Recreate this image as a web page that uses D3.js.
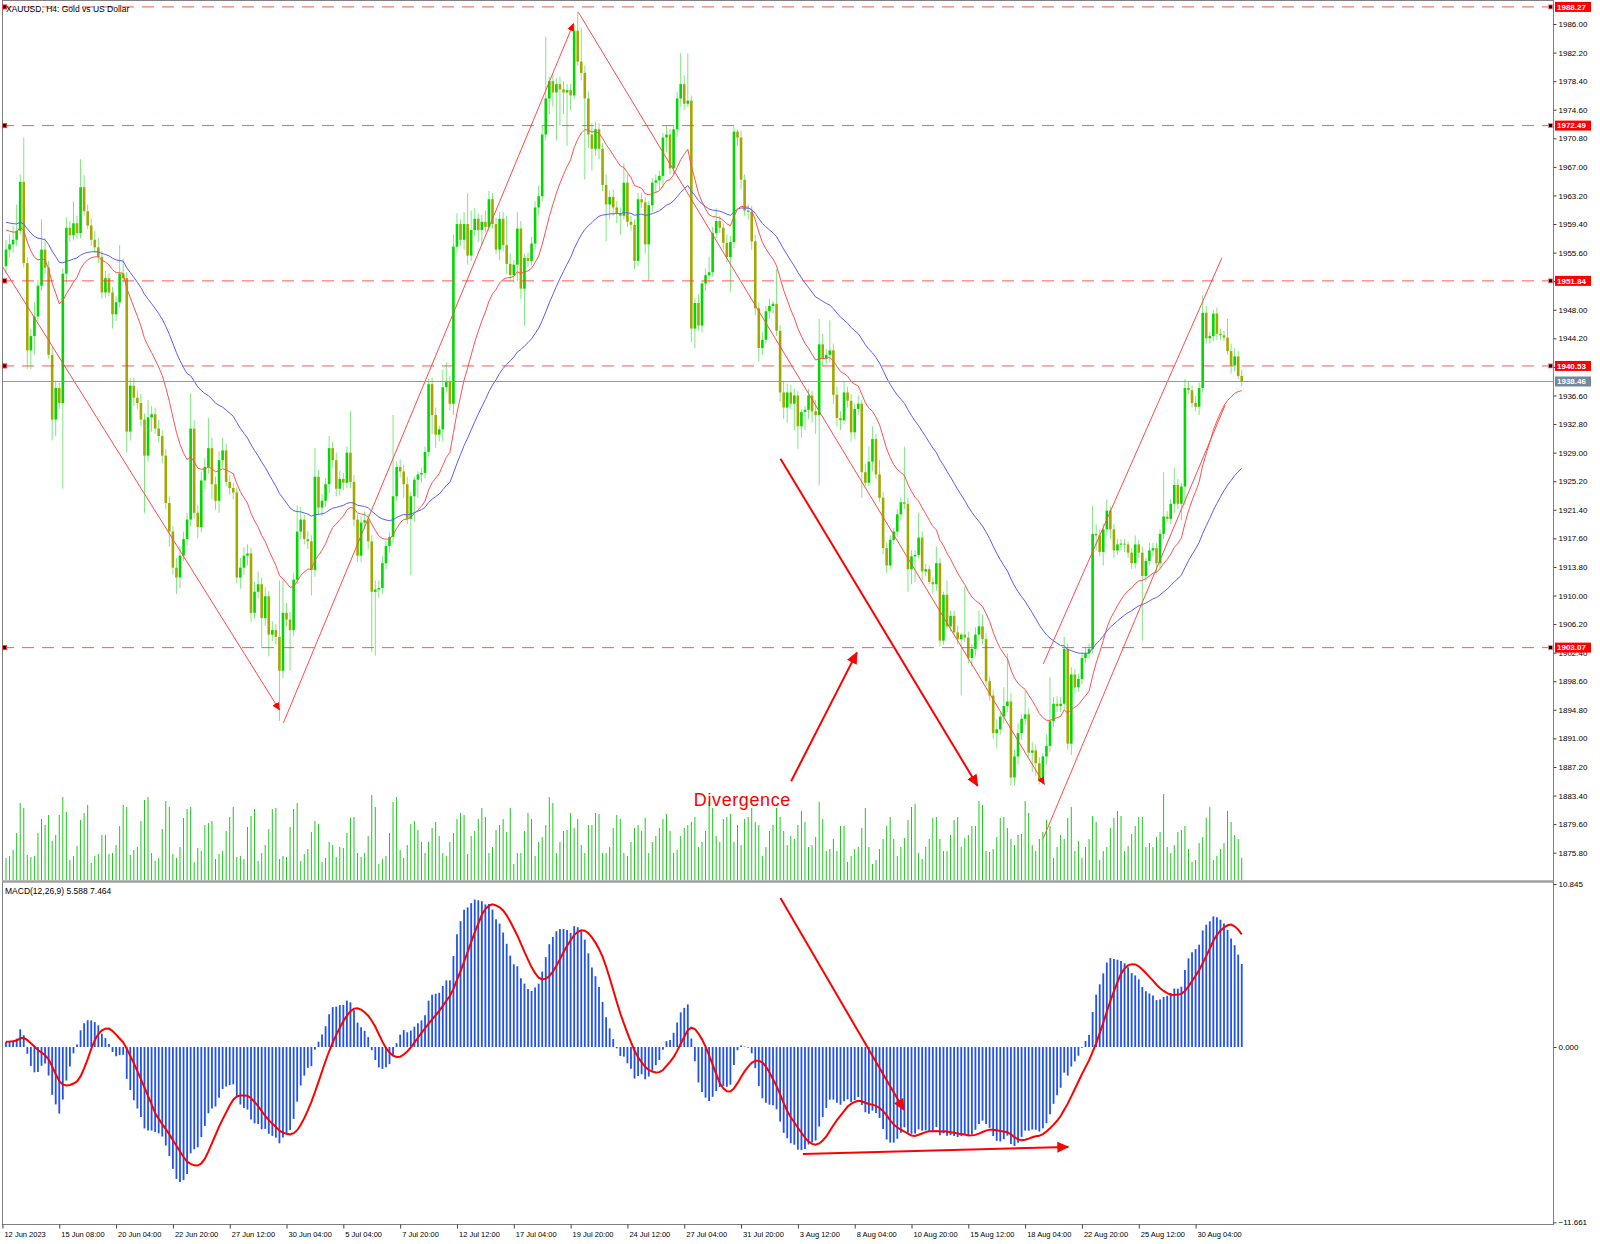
<!DOCTYPE html>
<html><head><meta charset="utf-8">
<script src="https://cdn.jsdelivr.net/npm/d3@7/dist/d3.min.js"></script>
<style>
html,body{margin:0;padding:0;background:#fff;}
svg{display:block;font-family:"Liberation Sans",Arial,sans-serif;}
</style></head><body>
<svg id="chart" width="1600" height="1244"></svg>
<script>
// ---------------- DATA (XAUUSD H4) ----------------
const open = [
1953.8,1956.0,1956.7,1957.3,1958.5,1965.0,1954.2,1942.6,1944.5,1947.1,
1951.2,1956.0,1953.6,1942.0,1933.4,1937.6,1935.6,1952.8,1958.9,1957.9,
1959.5,1958.2,1964.3,1961.1,1959.2,1957.3,1956.3,1955.0,1950.3,1952.2,
1950.3,1947.4,1949.0,1952.8,1952.2,1931.8,1937.9,1936.3,1935.6,1933.4,
1928.6,1933.7,1934.1,1932.2,1931.2,1928.6,1922.3,1918.5,1913.7,1912.4,
1915.3,1917.5,1920.1,1932.2,1921.0,1919.1,1925.3,1927.1,1929.6,1924.8,
1922.6,1928.0,1929.3,1925.1,1924.3,1923.7,1912.4,1913.7,1915.3,1915.6,
1907.7,1910.5,1911.5,1907.0,1909.9,1904.8,1905.4,1904.5,1900.0,1907.7,
1906.8,1905.4,1912.1,1918.5,1920.1,1917.5,1917.2,1913.4,1925.8,1921.7,
1922.6,1924.8,1929.6,1928.0,1924.2,1925.5,1925.0,1929.0,1925.1,1920.1,
1915.3,1919.7,1920.0,1917.2,1910.5,1910.8,1911.0,1914.3,1916.6,1917.8,
1923.2,1927.1,1926.5,
1924.8,1920.2,1923.2,1925.4,1926.1,1926.3,1929.1,1938.1,1934.0,1931.4,
1932.1,1937.7,1938.4,1935.5,1956.4,1959.4,1957.3,1959.4,1955.2,1958.6,
1960.1,1958.6,1959.7,1959.0,1962.7,1959.4,1956.0,1960.1,1956.6,1954.1,
1952.6,1954.0,1958.8,1950.8,1954.9,1954.5,1956.8,1961.6,1963.1,1971.3,
1976.1,1978.4,1976.9,1978.0,1977.3,1976.9,1977.2,1976.5,1985.1,1981.0,
1979.5,1976.1,1971.3,1969.4,1972.0,1969.4,1964.6,1962.0,1963.0,1961.6,
1960.8,1960.5,1964.9,1959.7,1959.3,1954.5,1962.7,1962.3,1956.7,1961.9,
1964.9,1965.2,1965.8,1970.9,1971.3,1966.8,1972.0,1976.1,1978.0,1975.4,
1975.8,1945.5,1948.9,1945.9,1951.5,1952.6,1953.0,1958.2,1959.8,1958.9,
1956.9,1955.0,1957.0,1971.7,1970.9,1965.3,1961.2,1961.0,1957.1,1948.2,
1942.9,1944.0,1947.8,1948.5,1948.8,1945.2,1937.0,1935.0,1937.0,1935.5,
1936.6,1932.5,1934.4,1934.7,
1936.6,1934.5,1934.0,1943.4,1941.5,1942.0,1942.6,1936.7,1933.6,1933.3,
1937.0,1935.9,1931.7,1934.8,1935.5,1926.4,1925.0,1927.8,1930.8,1926.1,
1923.0,1916.3,1914.0,1917.4,1918.5,1920.8,1922.4,1922.2,1913.5,1915.2,
1915.4,1917.7,1913.2,1913.5,1911.8,1911.5,1914.3,1904.0,1910.1,1905.9,
1907.3,1905.1,1904.2,1904.8,1904.4,1901.7,1902.9,1904.8,1905.9,1904.2,
1898.6,1896.7,1891.7,1892.2,1893.9,1895.3,1895.9,1885.8,1888.6,1891.7,
1893.6,1894.2,1889.1,1889.4,1887.7,1885.5,1888.6,1890.0,1893.3,1895.6,
1895.3,1895.6,1902.9,1890.3,1899.5,1897.8,1898.9,1901.7,1902.3,1902.9,
1918.2,1918.0,1915.8,1918.8,1921.3,1918.8,1916.0,1916.8,1916.9,1916.8,
1915.7,1914.3,1916.8,1915.7,1912.6,1914.6,1916.0,1916.3,1914.3,1918.2,
1920.5,1920.2,1922.2,1924.7,1922.2,1924.5,1937.6,1937.3,1935.6,1935.1,
1937.6,1947.6,1944.2,1944.5,1947.5,1944.8,1944.6,
1944.3,1942.5,1940.6,1941.8,1939.2
];
const high = [
1957.3,1958.0,1959.2,1962.0,1966.0,1970.9,1955.0,1945.5,1949.0,1952.0,
1960.0,1957.5,1954.5,1943.0,1938.5,1938.3,1953.5,1960.2,1959.8,1962.4,
1960.5,1968.0,1965.9,1962.0,1960.2,1958.5,1957.5,1955.8,1953.2,1952.9,
1951.0,1949.8,1956.6,1954.8,1953.0,1938.9,1939.0,1937.2,1936.8,1934.2,
1936.0,1935.2,1935.0,1933.4,1932.0,1929.5,1923.2,1919.2,1915.0,1916.5,
1918.5,1921.0,1936.9,1933.3,1922.0,1926.5,1928.3,1933.6,1931.0,1925.8,
1929.2,1931.0,1930.2,1926.0,1925.0,1924.4,1915.0,1916.4,1916.8,1916.3,
1911.8,1913.2,1912.4,1911.1,1910.6,1906.6,1906.2,1912.0,1912.0,1909.0,
1907.8,1913.0,1922.0,1921.8,1920.8,1918.6,1918.0,1929.6,1926.7,1923.5,
1925.6,1931.2,1930.5,1929.0,1926.6,1926.3,1929.8,1934.5,1926.0,1920.8,
1920.6,1921.2,1920.9,1918.0,1912.0,1912.0,1915.2,1917.3,1918.4,1934.0,
1927.8,1928.1,1927.4,
1925.8,1923.8,1925.8,1926.5,1927.0,1929.8,1938.8,1939.0,1935.0,1932.6,
1940.0,1941.0,1939.2,1958.0,1960.8,1960.0,1961.0,1963.5,1961.2,1961.5,
1960.8,1960.6,1961.2,1963.8,1963.5,1960.2,1961.0,1961.0,1960.5,1955.5,
1954.6,1961.0,1959.8,1955.5,1955.6,1957.7,1962.4,1964.5,1972.5,1984.3,
1979.0,1979.2,1978.8,1979.0,1978.4,1978.0,1978.0,1986.0,1987.6,1985.5,
1980.5,1977.0,1972.8,1973.0,1972.8,1970.2,1966.0,1963.8,1964.0,1962.5,
1961.6,1967.5,1966.0,1960.5,1960.0,1963.5,1963.6,1963.0,1962.5,1965.5,
1966.0,1966.5,1971.5,1972.5,1972.0,1972.5,1977.0,1982.1,1979.2,1982.1,
1976.5,1949.5,1950.0,1952.0,1953.5,1955.0,1959.0,1961.5,1960.5,1959.5,
1958.0,1957.8,1972.4,1972.0,1971.8,1966.0,1962.0,1961.8,1958.0,1949.0,
1945.0,1948.5,1949.5,1949.2,1953.4,1946.0,1938.5,1938.2,1938.0,1937.5,
1937.2,1934.8,1935.2,1937.5,
1937.2,1936.0,1946.8,1944.8,1942.8,1946.6,1943.5,1937.8,1934.5,1938.5,
1937.8,1936.8,1935.5,1936.6,1936.0,1927.5,1929.8,1932.5,1931.5,1928.0,
1923.8,1917.0,1918.0,1919.0,1921.5,1923.0,1929.8,1923.0,1916.0,1916.0,
1921.0,1918.5,1914.2,1914.0,1912.5,1916.5,1915.0,1910.5,1912.0,1908.0,
1908.0,1906.0,1905.0,1911.2,1905.2,1903.5,1905.8,1908.0,1907.5,1905.0,
1899.2,1897.5,1893.5,1894.5,1897.8,1902.3,1897.0,1889.5,1893.0,1894.2,
1897.3,1895.0,1890.5,1890.2,1888.5,1889.0,1891.5,1899.2,1896.5,1896.6,
1896.5,1904.5,1903.6,1900.5,1900.2,1899.6,1902.4,1903.0,1903.6,1921.9,
1919.5,1918.8,1919.5,1922.8,1921.9,1919.5,1917.5,1917.5,1917.5,1917.2,
1916.3,1918.0,1917.4,1916.5,1915.0,1917.0,1917.0,1917.0,1918.8,1926.4,
1921.2,1922.8,1927.0,1925.5,1925.0,1938.8,1938.4,1938.0,1936.5,1938.3,
1949.9,1948.5,1945.0,1948.0,1948.3,1945.5,1945.2,
1946.8,1943.5,1942.9,1942.5,1940.0
];
const low = [
1952.8,1955.0,1955.6,1956.5,1958.0,1953.6,1940.1,1940.1,1942.0,1946.5,
1950.5,1952.8,1941.5,1930.6,1931.2,1934.8,1924.2,1951.5,1957.0,1957.2,
1957.4,1957.5,1960.5,1958.8,1956.5,1955.5,1954.2,1949.5,1949.6,1949.8,
1945.5,1946.5,1948.3,1951.6,1929.0,1930.6,1935.2,1934.8,1932.5,1921.0,
1927.8,1931.8,1931.5,1930.4,1927.6,1921.5,1916.5,1912.8,1910.2,1911.0,
1914.6,1916.6,1919.2,1920.2,1917.6,1918.4,1924.2,1926.2,1922.8,1921.4,
1921.0,1927.0,1924.5,1923.4,1922.8,1911.6,1910.9,1912.7,1914.0,1906.5,
1906.9,1909.6,1903.0,1906.0,1901.9,1903.9,1903.5,1893.3,1899.0,1905.9,
1900.0,1904.6,1911.5,1917.5,1916.8,1916.2,1910.0,1912.5,1920.8,1920.6,
1921.8,1923.6,1927.0,1923.2,1923.3,1924.0,1924.3,1924.3,1919.2,1914.5,
1914.4,1918.8,1916.2,1902.5,1902.0,1909.7,1910.2,1913.5,1915.7,1917.0,
1922.6,1925.7,1923.0,
1919.5,1912.7,1919.8,1923.0,1925.0,1925.6,1928.5,1931.5,1929.6,1930.5,
1930.5,1937.0,1934.6,1934.0,1955.6,1956.5,1956.0,1954.0,1954.5,1957.8,
1957.0,1956.5,1958.3,1958.4,1958.8,1955.4,1954.6,1955.8,1952.8,1951.8,
1951.6,1951.8,1949.4,1945.9,1953.7,1953.9,1956.0,1960.6,1962.4,1970.5,
1974.0,1975.0,1970.5,1972.5,1974.0,1969.8,1974.5,1976.0,1980.5,1978.5,
1965.3,1969.5,1966.5,1968.5,1968.0,1963.8,1957.1,1960.0,1960.5,1959.5,
1958.0,1960.0,1959.0,1958.5,1953.4,1953.8,1961.5,1955.5,1951.9,1961.0,
1963.5,1964.0,1964.2,1969.0,1966.0,1966.0,1971.0,1975.0,1974.5,1975.0,
1943.7,1942.9,1945.2,1945.0,1950.5,1951.5,1952.4,1957.5,1958.2,1956.0,
1954.3,1950.4,1956.2,1969.8,1964.0,1960.5,1960.0,1956.0,1947.3,1941.1,
1942.0,1943.5,1946.8,1947.5,1944.5,1935.8,1933.5,1933.0,1934.8,1932.0,
1929.5,1931.0,1932.0,1933.5,
1933.0,1931.5,1924.7,1940.5,1940.8,1941.0,1935.5,1932.5,1932.0,1932.8,
1935.0,1930.5,1930.8,1934.0,1923.0,1924.5,1924.5,1926.5,1925.5,1922.5,
1915.5,1913.0,1913.5,1916.8,1917.8,1920.0,1921.5,1910.5,1911.5,1911.8,
1915.0,1912.0,1912.6,1911.5,1910.3,1910.6,1903.2,1903.5,1905.5,1905.2,
1904.9,1903.5,1896.7,1903.8,1901.0,1900.5,1902.0,1904.0,1903.5,1898.0,
1896.0,1891.0,1889.7,1891.5,1893.0,1894.5,1884.7,1884.7,1887.5,1890.8,
1892.8,1888.5,1886.5,1886.0,1884.9,1885.0,1887.5,1889.2,1892.5,1894.5,
1894.5,1894.8,1889.5,1888.8,1897.0,1897.2,1898.2,1901.0,1901.6,1902.3,
1916.0,1915.2,1914.0,1918.0,1917.5,1915.0,1915.4,1916.0,1915.8,1915.0,
1913.5,1913.6,1915.0,1904.0,1911.8,1914.0,1915.2,1913.0,1913.6,1917.5,
1919.8,1919.5,1921.0,1921.5,1920.0,1922.0,1936.8,1935.0,1934.5,1934.0,
1937.0,1943.5,1943.5,1943.8,1944.0,1944.0,1943.8,
1942.0,1939.5,1939.8,1938.8,1937.8
];
const close = [
1956.0,1956.7,1957.3,1958.5,1965.0,1954.2,1942.6,1944.5,1947.1,1951.2,
1956.0,1953.6,1942.0,1933.4,1937.6,1935.6,1952.8,1958.9,1957.9,1959.5,
1958.2,1964.3,1961.1,1959.2,1957.3,1956.3,1955.0,1950.3,1952.2,1950.3,
1947.4,1949.0,1952.8,1952.2,1931.8,1937.9,1936.3,1935.6,1933.4,1928.6,
1933.7,1934.1,1932.2,1931.2,1928.6,1922.3,1918.5,1913.7,1912.4,1915.3,
1917.5,1920.1,1932.2,1921.0,1919.1,1925.3,1927.1,1929.6,1924.8,1922.6,
1928.0,1929.3,1925.1,1924.3,1923.7,1912.4,1913.7,1915.3,1915.6,1907.7,
1910.5,1911.5,1907.0,1909.9,1904.8,1905.4,1904.5,1900.0,1907.7,1906.8,
1905.4,1912.1,1918.5,1920.1,1917.5,1917.2,1913.4,1925.8,1921.7,1922.6,
1924.8,1929.6,1928.0,1924.2,1925.5,1925.0,1929.0,1925.1,1920.1,1915.3,
1919.7,1920.0,1917.2,1910.5,1910.8,1911.0,1914.3,1916.6,1917.8,1923.2,
1927.1,1926.5,1924.8,
1920.2,1923.2,1925.4,1926.1,1926.3,1929.1,1938.1,1934.0,1931.4,1932.1,
1937.7,1938.4,1935.5,1956.4,1959.4,1957.3,1959.4,1955.2,1958.6,1960.1,
1958.6,1959.7,1959.0,1962.7,1959.4,1956.0,1960.1,1956.6,1954.1,1952.6,
1954.0,1958.8,1950.8,1954.9,1954.5,1956.8,1961.6,1963.1,1971.3,1976.1,
1978.4,1976.9,1978.0,1977.3,1976.9,1977.2,1976.5,1985.1,1981.0,1979.5,
1976.1,1971.3,1969.4,1972.0,1969.4,1964.6,1962.0,1963.0,1961.6,1960.8,
1960.5,1964.9,1959.7,1959.3,1954.5,1962.7,1962.3,1956.7,1961.9,1964.9,
1965.2,1965.8,1970.9,1971.3,1966.8,1972.0,1976.1,1978.0,1975.4,1975.8,
1945.5,1948.9,1945.9,1951.5,1952.6,1953.0,1958.2,1959.8,1958.9,1956.9,
1955.0,1957.0,1971.7,1970.9,1965.3,1961.2,1961.0,1957.1,1948.2,1942.9,
1944.0,1947.8,1948.5,1948.8,1945.2,1937.0,1935.0,1937.0,1935.5,1936.6,
1932.5,1934.4,1934.7,1936.6,
1934.5,1934.0,1943.4,1941.5,1942.0,1942.6,1936.7,1933.6,1933.3,1937.0,
1935.9,1931.7,1934.8,1935.5,1926.4,1925.0,1927.8,1930.8,1926.1,1923.0,
1916.3,1914.0,1917.4,1918.5,1920.8,1922.4,1922.2,1913.5,1915.2,1915.4,
1917.7,1913.2,1913.5,1911.8,1911.5,1914.3,1904.0,1910.1,1905.9,1907.3,
1905.1,1904.2,1904.8,1904.4,1901.7,1902.9,1904.8,1905.9,1904.2,1898.6,
1896.7,1891.7,1892.2,1893.9,1895.3,1895.9,1885.8,1888.6,1891.7,1893.6,
1894.2,1889.1,1889.4,1887.7,1885.5,1888.6,1890.0,1893.3,1895.6,1895.3,
1895.6,1902.9,1890.3,1899.5,1897.8,1898.9,1901.7,1902.3,1902.9,1918.2,
1918.0,1915.8,1918.8,1921.3,1918.8,1916.0,1916.8,1916.9,1916.8,1915.7,
1914.3,1916.8,1915.7,1912.6,1914.6,1916.0,1916.3,1914.3,1918.2,1920.5,
1920.2,1922.2,1924.7,1922.2,1924.5,1937.6,1937.3,1935.6,1935.1,1937.6,
1947.6,1944.2,1944.5,1947.5,1944.8,1944.6,1944.3,
1942.5,1940.6,1941.8,1939.2,1938.46
];
// tick volume (hundreds of ticks)
const volume = [
22,24,30,47,77,72,25,23,24,47,61,55,65,39,45,65,83,68,20,24,
34,60,67,75,17,24,26,45,45,26,27,35,54,75,73,25,30,33,59,80,
83,27,19,22,51,79,73,26,22,33,62,71,73,18,32,29,55,57,59,21,
26,29,49,63,73,23,24,21,53,64,71,19,27,35,51,71,72,21,24,23,
53,71,77,19,26,31,48,59,56,18,22,38,35,23,33,32,47,62,63,27,
23,27,44,85,73,16,21,24,47,78,83,30,22,
35,56,59,50,38,27,38,52,58,44,27,24,38,47,61,67,65,26,44,49,
61,72,63,27,33,50,55,61,48,72,16,27,27,49,67,61,24,38,43,55,
83,77,27,38,49,50,67,52,61,35,27,55,55,67,66,27,27,33,52,65,
61,27,24,38,52,55,49,62,27,38,44,52,61,66,49,27,30,44,52,55,
58,63,33,38,49,79,72,44,38,61,63,66,38,55,35,61,63,72,58,55,
24,33,49,55,72,63,49,35,44,41,55,69,58,33,
35,43,78,61,29,31,41,29,54,54,18,24,31,33,52,72,33,16,20,31,
41,54,63,41,24,33,42,60,73,76,27,21,33,41,62,63,41,29,29,45,
60,63,33,42,45,54,54,79,75,29,28,31,43,62,63,52,41,35,45,46,
79,67,35,29,41,48,60,54,22,33,45,41,62,73,29,39,22,33,41,64,
58,20,29,33,52,62,69,64,29,34,46,54,63,63,33,37,33,43,48,86,
33,27,35,48,50,54,31,18,20,37,43,62,73,20,24,31,37,
69,58,45,41,22
];
// horizontal levels drawn on the chart
const levels = [1988.27, 1972.49, 1951.84, 1940.53, 1903.07];
const bidPrice = 1938.46;
// right price-axis tick labels
const priceTicks = [1986.00,1982.20,1978.40,1974.60,1970.80,1967.00,1963.20,1959.40,1955.60,1951.80,
  1948.00,1944.20,1940.40,1936.60,1932.80,1929.00,1925.20,1921.40,1917.60,1913.80,1910.00,1906.20,
  1902.40,1898.60,1894.80,1891.00,1887.20,1883.40,1879.60,1875.80];
const macdTicks = [10.845, 0, -11.661];
// time-axis labels and the bar index each one sits on
const timeLabels = ["12 Jun 2023","15 Jun 08:00","20 Jun 04:00","22 Jun 20:00","27 Jun 12:00","30 Jun 04:00",
  "5 Jul 04:00","7 Jul 20:00","12 Jul 12:00","17 Jul 04:00","19 Jul 20:00","24 Jul 12:00","27 Jul 04:00",
  "31 Jul 20:00","3 Aug 12:00","8 Aug 04:00","10 Aug 20:00","15 Aug 12:00","18 Aug 04:00","22 Aug 20:00",
  "25 Aug 12:00","30 Aug 04:00"];
const timeBars = [-1,15,31,47,63,79,95,111,127,143,159,175,191,207,223,239,255,271,287,303,319,335];
// indicator settings / starting values read from the left edge
const maRedPeriod = 20, maRedStart = 1958.9;
const maBluePeriod = 50, maBlueStart = 1959.8;
const macdFast = 12, macdSlow = 26, macdSignal = 9, emaFastStart = 1956.2, emaSlowStart = 1955.8;
// drawn objects (bar index, price)
const trendLines = [
  {k1:-1.2, p1:1953.9, k2:77.0, p2:1894.8, arrow:true},
  {k1:78.1, p1:1893.05, k2:159.8, p2:1986.05, arrow:true},
  {k1:161.2, p1:1987.56, k2:292.4, p2:1884.9, arrow:true},
  {k1:292.1, p1:1900.9, k2:342.4, p2:1954.9, arrow:false},
  {k1:292.1, p1:1877.7, k2:343.3, p2:1935.3, arrow:false}
];
const divArrows = [
  {k1:218.1, p1:1928.2, k2:273.6, p2:1884.7},
  {k1:221.1, p1:1885.3, k2:239.6, p2:1902.4}
];
const macdArrows = [
  {k1:218.1, v1:9.91, k2:252.9, v2:-4.19},
  {k1:224.4, v1:-7.12, k2:299.1, v2:-6.65}
];
const divText = {k:193.7, p:1882.8, text:"Divergence"};

// ---------------- CHART ----------------
const svg = d3.select("#chart");
const N = close.length;
const x = d3.scaleLinear().domain([0, 348]).range([6, 6 + 3.551 * 348]);
const yP = d3.scaleLinear().domain([1875.8, 1986]).range([852.7, 24]);
const yV = d3.scaleLinear().domain([0, 100]).range([880, 780]);
const yM = d3.scaleLinear().domain([-11.661, 10.845]).range([1222.3, 884]);
const idx = d3.range(N);

const defs = svg.append("defs");
defs.append("clipPath").attr("id","clipP").append("rect").attr("x",3).attr("y",1).attr("width",1550).attr("height",879);
defs.append("clipPath").attr("id","clipM").append("rect").attr("x",3).attr("y",884).attr("width",1550).attr("height",340);
function marker(id, size){
  defs.append("marker").attr("id",id).attr("viewBox","0 0 10 10").attr("refX",9).attr("refY",5)
    .attr("markerUnits","userSpaceOnUse").attr("markerWidth",size).attr("markerHeight",size)
    .attr("orient","auto").append("path").attr("d","M0,0.5 L10,5 L0,9.5 z").attr("fill","#ff0000");
}
marker("arrS", 8); marker("arrL", 12);

// indicators computed from the close series
function ema(src, n, seed){ const a = 2/(n+1); let e = seed; return src.map(v => (e = e + a*(v - e))); }
const maRed = ema(close, maRedPeriod, maRedStart);
const maBlue = ema(close, maBluePeriod, maBlueStart);
const eF = ema(close, macdFast, emaFastStart), eS = ema(close, macdSlow, emaSlowStart);
const macd = eF.map((v,i) => v - eS[i]);
const signal = macd.map((v,i) => d3.mean(macd.slice(Math.max(0, i - macdSignal + 1), i + 1)));

// frame
const frame = svg.append("g").attr("stroke","#808080").attr("fill","none");
frame.append("line").attr("x1",2.5).attr("x2",2.5).attr("y1",0).attr("y2",1225);
frame.append("line").attr("x1",2).attr("x2",1554).attr("y1",0.5).attr("y2",0.5);
frame.append("line").attr("x1",2).attr("x2",1554).attr("y1",881.5).attr("y2",881.5).attr("stroke","#a0a0a0").attr("stroke-width",2.5);
frame.append("line").attr("x1",2).attr("x2",1554).attr("y1",1224.5).attr("y2",1224.5);
frame.append("line").attr("x1",1553.5).attr("x2",1553.5).attr("y1",0).attr("y2",1225);

// price pane
const gP = svg.append("g").attr("clip-path","url(#clipP)");
gP.append("g").selectAll("line").data(idx).join("line")
  .attr("x1",i=>x(i)).attr("x2",i=>x(i)).attr("y1",yV(0)).attr("y2",i=>yV(volume[i]))
  .attr("stroke","#1ec81e").attr("stroke-width",1);
gP.append("g").selectAll("line").data(idx).join("line")
  .attr("x1",i=>x(i)).attr("x2",i=>x(i)).attr("y1",i=>yP(high[i])).attr("y2",i=>yP(low[i]))
  .attr("stroke","#7ee87e").attr("stroke-width",1);
gP.append("g").selectAll("rect").data(idx).join("rect")
  .attr("x",i=>x(i)-1.3).attr("width",2.6)
  .attr("y",i=>yP(Math.max(open[i],close[i])))
  .attr("height",i=>Math.max(1,Math.abs(yP(open[i])-yP(close[i]))))
  .attr("fill",i=>close[i]>=open[i]?"#00d800":"#a2a800");
const line = d3.line().x((d,i)=>x(i));
gP.append("path").datum(maBlue).attr("d",line.y(d=>yP(d))).attr("fill","none").attr("stroke","#5a5aff").attr("stroke-width",1);
gP.append("path").datum(maRed).attr("d",line.y(d=>yP(d))).attr("fill","none").attr("stroke","#ff5050").attr("stroke-width",1);
// trend lines
gP.append("g").selectAll("line").data(trendLines).join("line")
  .attr("x1",d=>x(d.k1)).attr("y1",d=>yP(d.p1)).attr("x2",d=>x(d.k2)).attr("y2",d=>yP(d.p2))
  .attr("stroke","#ff4a4a").attr("stroke-width",1)
  .attr("marker-end",d=>d.arrow?"url(#arrS)":null);
gP.append("g").selectAll("line").data(divArrows).join("line")
  .attr("x1",d=>x(d.k1)).attr("y1",d=>yP(d.p1)).attr("x2",d=>x(d.k2)).attr("y2",d=>yP(d.p2))
  .attr("stroke","#ff0000").attr("stroke-width",2).attr("marker-end","url(#arrL)");
// levels
gP.append("line").attr("x1",2).attr("x2",1553).attr("y1",yP(bidPrice)).attr("y2",yP(bidPrice))
  .attr("stroke","#8e9aa8").attr("stroke-width",1);
gP.append("g").selectAll("line").data(levels).join("line")
  .attr("x1",2).attr("x2",1553).attr("y1",d=>yP(d)).attr("y2",d=>yP(d))
  .attr("stroke","#ff3a3a").attr("stroke-width",1).attr("stroke-dasharray","12,8").attr("opacity",0.85);
svg.append("g").selectAll("rect").data(levels).join("rect")
  .attr("x",2.5).attr("y",d=>yP(d)-2).attr("width",4).attr("height",4).attr("fill","#000").attr("stroke","#ff3030").attr("stroke-width",1);
svg.append("g").selectAll("rect").data(levels).join("rect")
  .attr("x",1548.5).attr("y",d=>yP(d)-2).attr("width",4).attr("height",4).attr("fill","#000").attr("stroke","#ff8080").attr("stroke-width",0.8);
gP.append("text").attr("x",x(divText.k)).attr("y",yP(divText.p)).attr("dy","0.35em")
  .attr("font-size",18).attr("letter-spacing",0.6).attr("fill","#ff0000").text(divText.text);

svg.append("text").attr("x",6).attr("y",12).attr("font-size",8.5).attr("fill","#000").text("XAUUSD, H4:  Gold vs US Dollar");

// MACD pane
const gM = svg.append("g").attr("clip-path","url(#clipM)");
gM.append("g").selectAll("line").data(idx).join("line")
  .attr("x1",i=>x(i)).attr("x2",i=>x(i)).attr("y1",yM(0)).attr("y2",i=>yM(macd[i]))
  .attr("stroke","#2152f0").attr("stroke-width",1.8);
gM.append("path").datum(signal).attr("d",line.y(d=>yM(d))).attr("fill","none").attr("stroke","#ff0000").attr("stroke-width",2);
gM.append("g").selectAll("line").data(macdArrows).join("line")
  .attr("x1",d=>x(d.k1)).attr("y1",d=>yM(d.v1)).attr("x2",d=>x(d.k2)).attr("y2",d=>yM(d.v2))
  .attr("stroke","#ff0000").attr("stroke-width",2).attr("marker-end","url(#arrL)");
svg.append("text").attr("x",5).attr("y",894).attr("font-size",8.5).attr("fill","#000").text("MACD(12,26,9) 5.588 7.464");

// axes
function styleAxis(g){ g.select(".domain").remove(); g.attr("font-family","Liberation Sans, Arial, sans-serif"); g.selectAll("line").attr("stroke","#404040"); g.selectAll("text").attr("fill","#000"); }
svg.append("g").attr("transform","translate(1553.5,0)")
  .call(d3.axisRight(yP).tickValues(priceTicks).tickFormat(d3.format(".2f")).tickSize(3).tickPadding(2))
  .attr("font-size",8).call(styleAxis);
svg.append("g").attr("transform","translate(1553.5,0)")
  .call(d3.axisRight(yM).tickValues(macdTicks).tickFormat(d3.format(".3f")).tickSize(3).tickPadding(2))
  .attr("font-size",8).call(styleAxis);
svg.append("g").attr("transform","translate(0,1224.5)")
  .call(d3.axisBottom(x).tickValues(timeBars).tickFormat((d,i)=>timeLabels[i]).tickSize(4).tickPadding(3))
  .attr("font-size",7.5).call(styleAxis)
  .call(g=>g.selectAll("text").attr("text-anchor","start").attr("dx",1.5));

// level price labels
const lab = svg.append("g").attr("font-size",8).attr("font-weight","bold");
lab.selectAll("rect.l").data(levels).join("rect").attr("class","l")
  .attr("x",1555).attr("y",d=>yP(d)-5).attr("width",36).attr("height",10).attr("fill","#ff0000");
lab.selectAll("text.l").data(levels).join("text").attr("class","l")
  .attr("x",1557).attr("y",d=>yP(d)).attr("dy","0.35em").attr("fill","#fff").text(d=>d3.format(".2f")(d));
lab.append("rect").attr("x",1555).attr("y",yP(bidPrice)-5).attr("width",36).attr("height",10).attr("fill","#74879b");
lab.append("text").attr("x",1557).attr("y",yP(bidPrice)).attr("dy","0.35em").attr("fill","#fff").text(d3.format(".2f")(bidPrice));
</script>
</body></html>
